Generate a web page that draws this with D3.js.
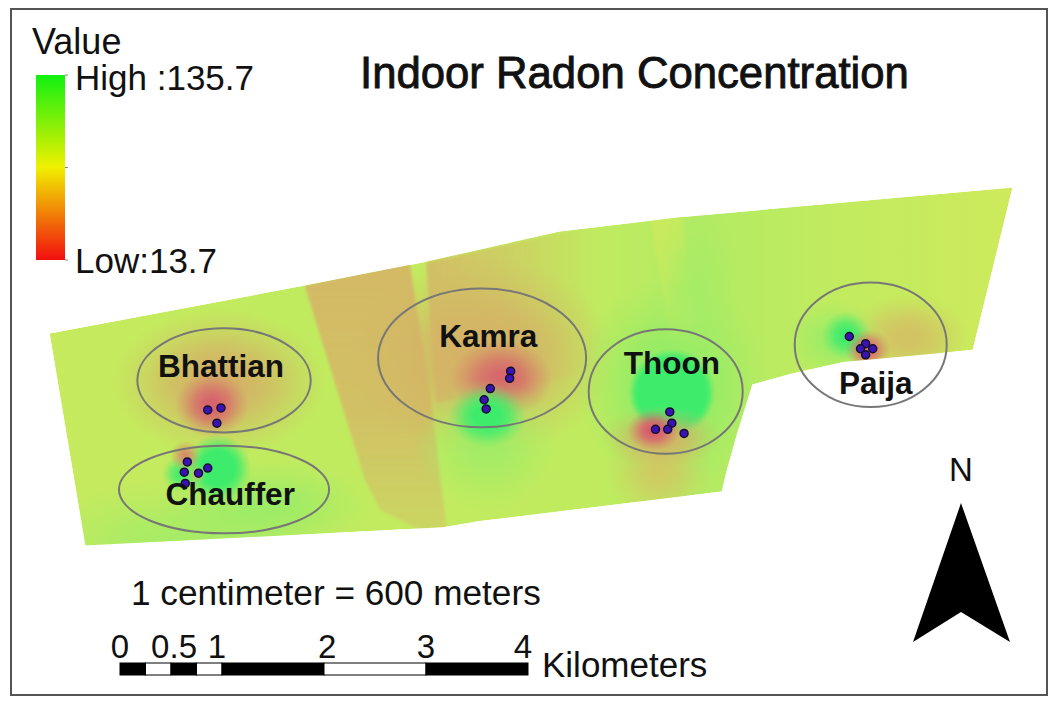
<!DOCTYPE html>
<html>
<head>
<meta charset="utf-8">
<style>
body { margin: 0; background: #fff; }
text { font-family: "Liberation Sans", Arial, sans-serif; fill: #111; }
.frame { fill: none; stroke: #555; stroke-width: 2; }
.ring { fill: none; stroke: #777; stroke-width: 2; }
.place { font-size: 31.5px; font-weight: bold; text-anchor: middle; }
.site { fill: #3b12b5; stroke: #14102a; stroke-width: 1.5; }
</style>
</head>
<body>
<svg width="1058" height="705"></svg>
<script src="https://cdn.jsdelivr.net/npm/d3@7"></script>
<script>
// map units are km east / km north from the left end of the scale bar
var boundary = [[-0.69,3.28],[1.81,3.75],[2.94,3.97],[4.31,4.28],[5.49,4.42],[8.75,4.71],[8.36,3.12],
  [7.97,3.08],[7.09,3.00],[6.60,2.89],[6.20,2.78],[6.05,2.30],[5.95,1.94],[5.90,1.73],[3.53,1.44],[3.17,1.38],[-0.34,1.20]]

var legendTicks = [135.7, 74.7, 13.7]
var valueStops = [13.7, 24, 48, 76, 100, 135.7]
var valueColors = ["#d8506e", "#d68a68", "#d4b566", "#cdea5c", "#a6ec66", "#3cec6c"]

var baseEast = [-0.69, 1.76, 3.04, 4.7, 5.7, 7.2, 8.75]
var baseValue = [80, 84, 82, 84, 92, 82, 76]

var bandNames = ["tan", "upper", "strip"]
var bandValue = [50, 52, 76]
var bandShapes = [
  [[1.81,3.75],[2.84,3.98],[3.05,2.64],[3.2,1.38],[3.05,1.3],[2.55,1.55],[2.4,1.85]],
  [[3.0,3.98],[4.7,4.35],[4.7,2.9],[3.1,2.6]],
  [[5.2,4.4],[5.5,4.45],[5.65,3.4],[5.4,3.2]]
]

var hotEast  = [0.59,0.98,0.90,1.42,0.96,0.59,0.64,0.76,3.55,3.74,3.60,3.60,5.41,5.64,5.41,5.29,5.31,5.23,7.72,7.01,7.12,7.33]
var hotNorth = [1.25,2.80,2.58,1.60,1.96,1.90,2.08,1.90,3.05,2.84,2.19,2.47,2.78,3.71,2.70,1.94,2.27,2.33,3.24,3.22,3.26,3.12]
var hotRx    = [1.60,1.05,0.36,1.05,0.33,0.18,0.15,0.09,1.30,0.50,0.72,0.38,0.95,0.45,0.43,0.52,0.60,0.26,0.60,0.48,0.24,0.22]
var hotRy    = [0.60,0.72,0.32,0.45,0.33,0.18,0.15,0.09,1.00,0.38,0.66,0.31,1.05,0.85,0.43,0.52,0.30,0.20,0.42,0.40,0.24,0.20]
var hotValue = [100,46,17,104,135,130,25,50,47,18,102,135,108,100,135,58,44,15,56,105,135,20]
var hotCore  = [0,0.15,0.15,0,0.5,0.2,0.1,0,0.2,0.15,0,0.35,0.1,0,0.78,0,0,0.15,0.2,0,0.2,0.2]

var placeNames = ["Bhattian", "Chauffer", "Kamra", "Thoon", "Paija"]
var ringEast   = [1.02, 1.02, 3.55, 5.35, 7.36]
var ringNorth  = [2.82, 1.75, 3.04, 2.71, 3.17]
var ringRx     = [0.85, 1.03, 1.02, 0.755, 0.745]
var ringRy     = [0.51, 0.43, 0.68, 0.61, 0.61]
var labelEast  = [0.99, 1.08, 3.61, 5.41, 7.41]
var labelNorth = [2.85, 1.60, 3.15, 2.88, 2.69]

var siteEast  = [0.86,0.99,0.95, 0.66,0.63,0.77,0.86,0.64, 3.83,3.82,3.63,3.57,3.59, 5.39,5.41,5.37,5.25,5.53, 7.15,7.31,7.26,7.38,7.31]
var siteNorth = [2.53,2.55,2.40, 2.02,1.92,1.91,1.96,1.81, 2.91,2.84,2.74,2.63,2.54, 2.51,2.40,2.34,2.34,2.30, 3.25,3.18,3.13,3.13,3.07]

var barBreaks = [0, 0.25, 0.5, 0.75, 1, 2, 3, 4]
var barLabels = ["0", "0.5", "1", "2", "3", "4"]
var barLabelKm = [0, 0.53, 0.95, 2.03, 3, 3.95]

var svg = d3.select("svg")
var defs = svg.append("defs")

var x = d3.scaleLinear().domain([0, 4]).range([120, 528])
var y = d3.scaleLinear().domain([0, 4]).range([668, 260])
var km = d3.scaleLinear().domain([0, 4]).range([0, 408])
var color = d3.scaleLinear().domain(valueStops).range(valueColors)
var line = d3.line().x(function(d) { return x(d[0]) }).y(function(d) { return y(d[1]) })

svg.append("rect").attr("class", "frame").attr("x", 11).attr("y", 9).attr("width", 1036).attr("height", 686)

// ---- surface
defs.append("clipPath").attr("id", "area").append("path").attr("d", line(boundary) + "Z")
defs.append("filter").attr("id", "soft").attr("x", "-10%").attr("y", "-10%").attr("width", "120%").attr("height", "120%")
  .append("feGaussianBlur").attr("stdDeviation", 1.6)

var base = defs.append("linearGradient").attr("id", "base").attr("gradientUnits", "userSpaceOnUse")
  .attr("x1", x(baseEast[0])).attr("x2", x(baseEast[baseEast.length - 1])).attr("y1", 0).attr("y2", 0)
base.selectAll("stop").data(baseEast).enter().append("stop")
  .attr("offset", function(d) { return (d - baseEast[0]) / (baseEast[baseEast.length - 1] - baseEast[0]) })
  .attr("stop-color", function(d, i) { return color(baseValue[i]) })

var fade = defs.append("linearGradient").attr("id", "fadeRight")
fade.append("stop").attr("offset", 0).attr("stop-color", color(bandValue[1])).attr("stop-opacity", 0.95)
fade.append("stop").attr("offset", 0.45).attr("stop-color", color(bandValue[1])).attr("stop-opacity", 0.6)
fade.append("stop").attr("offset", 1).attr("stop-color", color(bandValue[1])).attr("stop-opacity", 0)
var fadeDown = defs.append("linearGradient").attr("id", "fadeDown").attr("x1", 0).attr("x2", 0).attr("y1", 0).attr("y2", 1)
fadeDown.append("stop").attr("offset", 0).attr("stop-color", color(bandValue[0])).attr("stop-opacity", 1)
fadeDown.append("stop").attr("offset", 0.55).attr("stop-color", color(bandValue[0])).attr("stop-opacity", 0.85)
fadeDown.append("stop").attr("offset", 1).attr("stop-color", color(bandValue[0])).attr("stop-opacity", 0.4)

var map = svg.append("g").attr("clip-path", "url(#area)")
map.append("path").attr("d", line(boundary) + "Z").attr("fill", "url(#base)")
map.selectAll(".band").data(bandShapes).enter().append("path")
  .attr("class", "band")
  .attr("d", function(d) { return line(d) + "Z" })
  .attr("filter", "url(#soft)")
  .attr("fill", function(d, i) { return i == 0 ? "url(#fadeDown)" : i == 1 ? "url(#fadeRight)" : color(bandValue[i]) })
  .attr("fill-opacity", function(d, i) { return i == 2 ? 0.8 : 1 })

hotEast.forEach(function(e, i) {
  var g = defs.append("radialGradient").attr("id", "hot" + i)
  var c = color(hotValue[i]), core = hotCore[i]
  ;[[0, 1], [core, 1], [core + (1 - core) * 0.35, 0.72], [core + (1 - core) * 0.7, 0.28], [1, 0]].forEach(function(s) {
    g.append("stop").attr("offset", s[0]).attr("stop-color", c).attr("stop-opacity", s[1])
  })
  map.append("ellipse").attr("cx", x(e)).attr("cy", y(hotNorth[i]))
    .attr("rx", km(hotRx[i])).attr("ry", km(hotRy[i])).attr("fill", "url(#hot" + i + ")")
})

// ---- rings, sample sites, names
svg.selectAll(".ring").data(placeNames).enter().append("ellipse").attr("class", "ring")
  .attr("cx", function(d, i) { return x(ringEast[i]) })
  .attr("cy", function(d, i) { return y(ringNorth[i]) })
  .attr("rx", function(d, i) { return km(ringRx[i]) })
  .attr("ry", function(d, i) { return km(ringRy[i]) })

svg.selectAll(".site").data(siteEast).enter().append("circle").attr("class", "site")
  .attr("cx", function(d) { return x(d) })
  .attr("cy", function(d, i) { return y(siteNorth[i]) })
  .attr("r", 4)

svg.selectAll(".place").data(placeNames).enter().append("text").attr("class", "place")
  .attr("x", function(d, i) { return x(labelEast[i]) })
  .attr("y", function(d, i) { return y(labelNorth[i]) })
  .text(function(d) { return d })

// ---- legend
var legendY = d3.scaleLinear().domain([13.7, 135.7]).range([260, 75])
var ramp = defs.append("linearGradient").attr("id", "ramp").attr("x1", 0).attr("x2", 0).attr("y1", 0).attr("y2", 1)
ramp.append("stop").attr("offset", 0).attr("stop-color", "#10f010")
ramp.append("stop").attr("offset", 0.5).attr("stop-color", "#f0f000")
ramp.append("stop").attr("offset", 1).attr("stop-color", "#f20f0f")
svg.append("rect").attr("x", 36).attr("y", legendY(135.7)).attr("width", 29)
  .attr("height", legendY(13.7) - legendY(135.7)).attr("fill", "url(#ramp)")
svg.selectAll(".tick").data(legendTicks).enter().append("line").attr("class", "tick")
  .attr("x1", 65).attr("x2", 68)
  .attr("y1", function(d) { return legendY(d) }).attr("y2", function(d) { return legendY(d) })
  .attr("stroke", "#888")
svg.append("text").attr("x", 32).attr("y", 54).attr("font-size", 36).text("Value")
svg.append("text").attr("x", 75).attr("y", 90).attr("font-size", 35).text("High :135.7")
svg.append("text").attr("x", 75).attr("y", 273).attr("font-size", 35).text("Low:13.7")

svg.append("text").attr("x", 360).attr("y", 88).attr("font-size", 43.7)
  .attr("stroke", "#111").attr("stroke-width", 0.9)
  .text("Indoor Radon Concentration")

// ---- scale bar
svg.append("text").attr("x", 131).attr("y", 605).attr("font-size", 35.2).text("1 centimeter = 600 meters")
var bar = svg.append("g")
bar.selectAll("rect").data(d3.pairs(barBreaks)).enter().append("rect")
  .attr("x", function(d) { return x(d[0]) })
  .attr("width", function(d) { return x(d[1]) - x(d[0]) })
  .attr("y", 663).attr("height", 12)
  .attr("fill", function(d, i) { return i % 2 ? "#fff" : "#000" })
  .attr("stroke", "#000").attr("stroke-width", 1)
bar.selectAll("text").data(barLabels).enter().append("text")
  .attr("x", function(d, i) { return x(barLabelKm[i]) })
  .attr("y", 658).attr("font-size", 33).attr("text-anchor", "middle")
  .text(function(d) { return d })
svg.append("text").attr("x", 542).attr("y", 677).attr("font-size", 35).text("Kilometers")

// ---- north arrow
svg.append("text").attr("x", 961).attr("y", 481).attr("font-size", 33).attr("text-anchor", "middle").text("N")
svg.append("path").attr("d", "M961,503L1010,642L961,612L913,642Z").attr("fill", "#000")
</script>
</body>
</html>
